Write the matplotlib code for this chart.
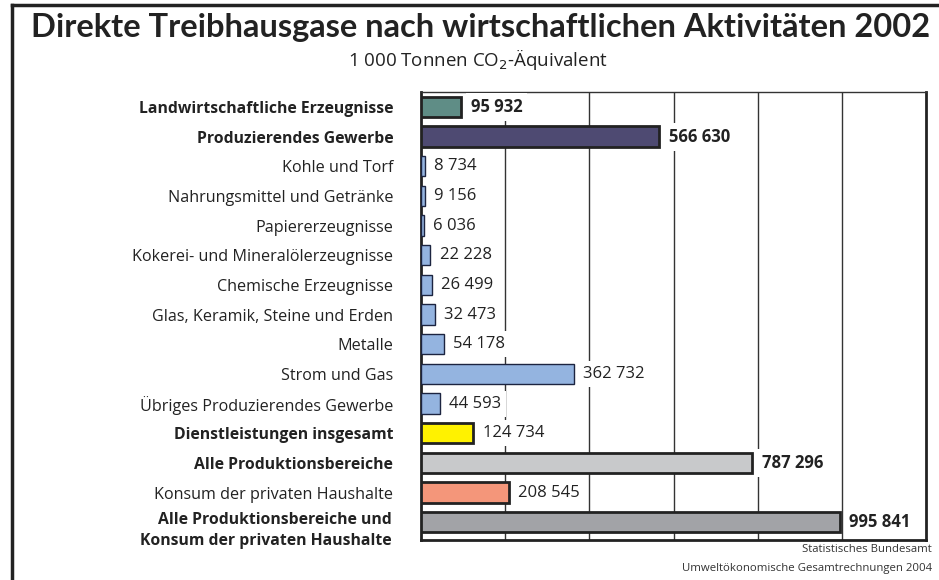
import numpy as np
import matplotlib.pyplot as plt
from matplotlib.lines import Line2D

# Daten (1 000 Tonnen CO2-Äquivalent)
kategorien = [
    'Landwirtschaftliche Erzeugnisse',
    'Produzierendes Gewerbe',
    'Kohle und Torf',
    'Nahrungsmittel und Getränke',
    'Papiererzeugnisse',
    'Kokerei- und Mineralölerzeugnisse',
    'Chemische Erzeugnisse',
    'Glas, Keramik, Steine und Erden',
    'Metalle',
    'Strom und Gas',
    'Übriges Produzierendes Gewerbe',
    'Dienstleistungen insgesamt',
    'Alle Produktionsbereiche',
    'Konsum der privaten Haushalte',
    'Alle Produktionsbereiche und\nKonsum der privaten Haushalte',
]
werte = [95932, 566630, 8734, 9156, 6036, 22228, 26499, 32473, 54178,
         362732, 44593, 124734, 787296, 208545, 995841]
fett = [True, True, False, False, False, False, False, False, False,
        False, False, True, True, False, True]
wert_fett = [True, True, False, False, False, False, False, False, False,
             False, False, False, True, False, True]
farben = ['#5f8d86', '#4e4a72'] + ['#94b4e0'] * 9 + ['#fff200', '#c8c9cb', '#f4967a', '#a2a3a7']

def fmt(v):
    return f'{v:,}'.replace(',', ' ')

plt.rcParams['font.family'] = ['Open Sans', 'DejaVu Sans']

fig = plt.figure(figsize=(9.39, 5.8), dpi=100)
ax = fig.add_axes([421/939, 1 - 540/580, 505/939, 448/580])

y = np.arange(len(kategorien))
for i, (v, c) in enumerate(zip(werte, farben)):
    lw = 1.0 if c == '#94b4e0' else 2.0
    ec = '#1c2440' if c == '#94b4e0' else '#222222'
    ax.barh(y[i], v, height=0.68, color=c, edgecolor=ec, linewidth=lw, zorder=3)
    ax.text(v + 22000, y[i], fmt(v), va='center', ha='left', fontsize=12,
            fontweight='bold' if wert_fett[i] else 'normal', color='#222222',
            bbox=dict(boxstyle='square,pad=0.3', fc='white', ec='none'), zorder=4)

ax.set_xlim(0, 1200000)
ax.set_ylim(14.6, -0.5)
ax.set_xticks([200000, 400000, 600000, 800000, 1000000])
ax.xaxis.grid(True, color='#333333', linewidth=1.0, zorder=1)
ax.set_axisbelow(True)
ax.tick_params(axis='x', labelbottom=False, length=0)
ax.set_yticks(y)
ax.set_yticklabels(kategorien[:-1] + [''], fontsize=11.6, color='#222222')
for lab, f in zip(ax.get_yticklabels(), fett):
    if f:
        lab.set_fontweight('bold')
        lab.set_fontsize(11.3)
ax.tick_params(axis='y', length=0, pad=20)

# letzte Beschriftung zweizeilig, etwas tiefer
ax.annotate(kategorien[-1], xy=(0, y[-1]), xycoords=('axes fraction', 'data'),
            xytext=(-21, -6), textcoords='offset points', ha='right', va='center',
            multialignment='right', linespacing=1.45, fontsize=11.3,
            fontweight='bold', color='#222222', annotation_clip=False)

for s in ['left', 'right', 'bottom']:
    ax.spines[s].set_linewidth(2)
    ax.spines[s].set_color('#222222')
ax.spines['top'].set_linewidth(1)
ax.spines['top'].set_color('#333333')

fig.text(481/939, 1 - 27/580, 'Direkte Treibhausgase nach wirtschaftlichen Aktivitäten 2002',
         ha='center', va='center', fontsize=23.5, fontweight='bold', color='#222222',
         family=['Lato', 'DejaVu Sans'])
fig.text(478/939, 1 - 60/580, '1 000 Tonnen CO$_2$-Äquivalent', ha='center', va='center',
         fontsize=13.5, color='#222222')
fig.text(932/939, 1 - 549/580, 'Statistisches Bundesamt', ha='right', va='center',
         fontsize=8.2, color='#333333')
fig.text(932/939, 1 - 568/580, 'Umweltökonomische Gesamtrechnungen 2004', ha='right', va='center',
         fontsize=8.2, color='#333333')

# Rahmen
fig.add_artist(Line2D([12/939, 12/939], [0, 1 - 5/580], color='#222222', linewidth=2.5,
                      transform=fig.transFigure))
fig.add_artist(Line2D([12/939, 1], [1 - 5/580, 1 - 5/580], color='#222222', linewidth=2.5,
                      transform=fig.transFigure))

fig.savefig('out.png', dpi=100)
